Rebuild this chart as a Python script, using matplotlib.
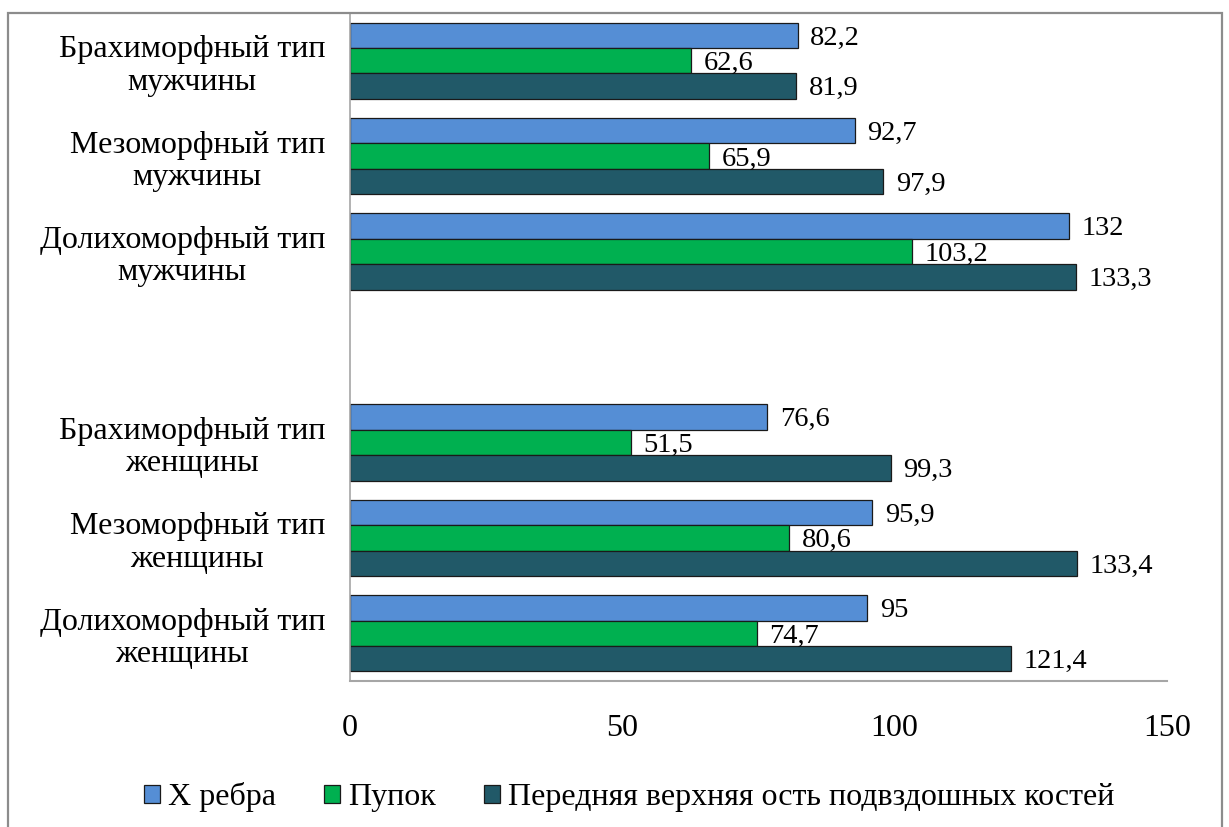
import matplotlib

matplotlib.use("Agg")
import matplotlib.pyplot as plt
from matplotlib.patches import Rectangle
import numpy as np

plt.rcParams["font.family"] = ["Liberation Serif", "DejaVu Serif"]

# top-to-bottom slots; the empty slot separates men from women
categories = [
    "Брахиморфный тип\nмужчины",
    "Мезоморфный тип\nмужчины",
    "Долихоморфный тип\nмужчины",
    "",
    "Брахиморфный тип\nженщины",
    "Мезоморфный тип\nженщины",
    "Долихоморфный тип\nженщины",
]
rib_x = [82.2, 92.7, 132, None, 76.6, 95.9, 95]
navel = [62.6, 65.9, 103.2, None, 51.5, 80.6, 74.7]
iliac_spine = [81.9, 97.9, 133.3, None, 99.3, 133.4, 121.4]
series_names = ["Х ребра", "Пупок", "Передняя верхняя ость подвздошных костей"]
colors = ["#558ED5", "#00B050", "#215968"]
x_ticks = [0, 50, 100, 150]


def fmt(v):
    return f"{v:g}".replace(".", ",")


fig = plt.figure(figsize=(12.29, 8.27), dpi=100)
ax = fig.add_axes([350 / 1229, 146 / 827, 817 / 1229, 668 / 827])

# outer chart frame
fig.patches.append(Rectangle((8 / 1229, -0.05), 1214 / 1229, (814 / 827) + 0.05,
                             transform=fig.transFigure, fill=False,
                             edgecolor="#8C8C8C", linewidth=1.6, zorder=0))

bar_h = 0.266
offsets = [-bar_h, 0.0, bar_h]
pos = np.arange(len(categories))
for values, off, color, name in zip([rib_x, navel, iliac_spine], offsets, colors, series_names):
    ys = [p + off for p, v in zip(pos, values) if v is not None]
    vs = [v for v in values if v is not None]
    ax.barh(ys, vs, height=bar_h, color=color, edgecolor="#1A1A1A",
            linewidth=0.9, label=name)
    for y, v in zip(ys, vs):
        ax.annotate(fmt(v), (v, y), xytext=(9, -2), textcoords="offset points",
                    ha="left", va="center", fontsize=20.5)

ax.set_ylim(len(categories) - 0.5, -0.5)
ax.set_xlim(0, 150)
ax.set_xticks(x_ticks)
ax.set_xticklabels([str(t) for t in x_ticks], fontsize=23)
ax.set_yticks(pos)
ax.set_yticklabels(categories, fontsize=23, multialignment="center",
                   linespacing=1.15)
ax.tick_params(axis="both", length=0)
ax.tick_params(axis="x", pad=24)
ax.tick_params(axis="y", pad=18)
for lbl in ax.get_yticklabels():
    lbl.set_y(lbl.get_position()[1])

for side in ("top", "right"):
    ax.spines[side].set_visible(False)
ax.spines["left"].set_color("#A6A6A6")
ax.spines["bottom"].set_color("#A6A6A6")
ax.spines["left"].set_linewidth(1.2)
ax.spines["bottom"].set_linewidth(1.5)

fig.legend(loc="center", bbox_to_anchor=(629 / 1229, 30 / 827), ncol=3, frameon=False,
           fontsize=23, handlelength=0.5, handleheight=0.5, handletextpad=0.25,
           columnspacing=1.5)

fig.savefig("out.png", dpi=100)
